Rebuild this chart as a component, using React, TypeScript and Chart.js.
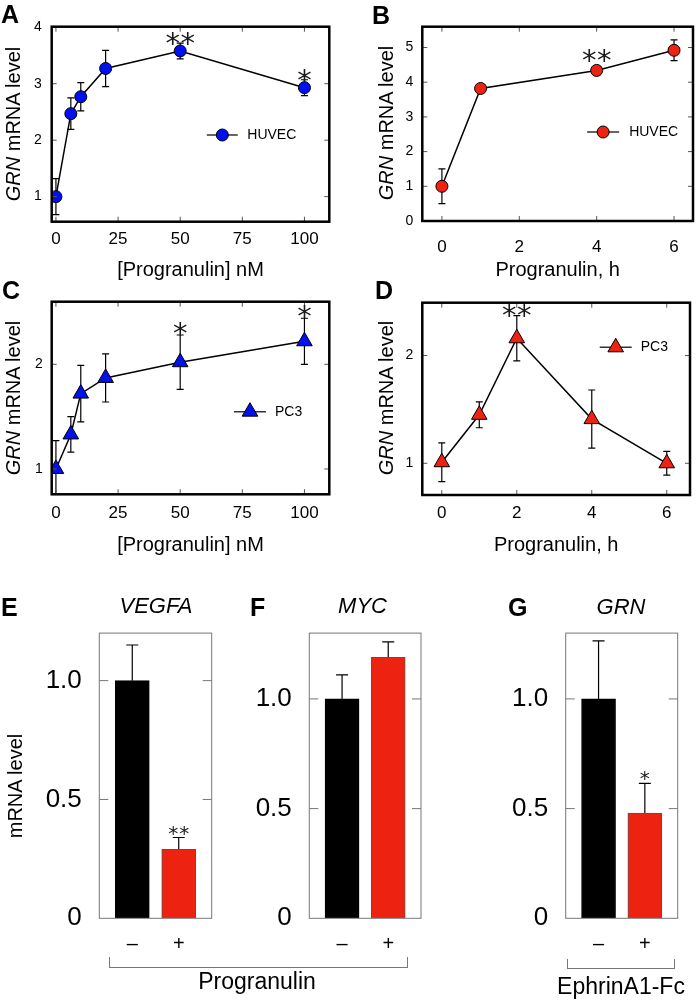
import React, { useEffect, useRef } from 'react';
import { Chart, registerables } from 'chart.js';

Chart.register(...registerables);

const FONT = '"Liberation Sans", Arial, Helvetica, sans-serif';
const STAR_FONT = '"DejaVu Sans", sans-serif';
const BLUE = '#0010ee';
const RED = '#ee2211';

// ---------------- data ----------------
const doseNM = [0, 6, 10, 20, 50, 100];
const hoursHUVEC = [0, 1, 4, 6];
const hoursPC3 = [0, 1, 2, 4, 6];

const huvecDoseMean = [1.0, 2.47, 2.77, 3.27, 3.58, 2.93];
const huvecDoseErr = [0.32, 0.28, 0.25, 0.32, 0.14, 0.14];
const huvecDoseStars = ['', '', '', '', '**', '*'];

const huvecTimeMean = [1.0, 3.82, 4.34, 4.92];
const huvecTimeErr = [0.5, 0.05, 0.12, 0.3];
const huvecTimeStars = ['', '', '**', ''];

const pc3DoseMean = [1.0, 1.33, 1.72, 1.87, 2.02, 2.22];
const pc3DoseErr = [0.27, 0.17, 0.27, 0.23, 0.26, 0.22];
const pc3DoseStars = ['', '', '', '', '*', '*'];

const pc3TimeMean = [1.01, 1.45, 2.16, 1.41, 1.0];
const pc3TimeErr = [0.18, 0.12, 0.21, 0.27, 0.11];
const pc3TimeStars = ['', '', '**', '', ''];

const treatment = ['\u2013', '+'];
const vegfaMean = [1.0, 0.29];
const vegfaErr = [0.15, 0.05];
const vegfaStars = ['', '**'];
const mycMean = [1.0, 1.19];
const mycErr = [0.11, 0.07];
const mycStars = ['', ''];
const grnMean = [1.0, 0.48];
const grnErr = [0.265, 0.135];
const grnStars = ['', '*'];

const doseTicks = [0, 25, 50, 75, 100];
const hourTicks = [0, 2, 4, 6];
const huvecDoseYTicks = [1, 2, 3, 4];
const huvecTimeYTicks = [0, 1, 2, 3, 4, 5];
const pc3YTicks = [1, 2];
const barYTicks = [0, 0.5, 1.0];

// ---------------- plugin ----------------
function drawMarker(ctx: CanvasRenderingContext2D, style: string, x: number, y: number, r: number, fill: string) {
  ctx.beginPath();
  if (style === 'triangle') {
    ctx.moveTo(x, y - r);
    ctx.lineTo(x + 0.866 * r, y + 0.5 * r);
    ctx.lineTo(x - 0.866 * r, y + 0.5 * r);
    ctx.closePath();
  } else {
    ctx.arc(x, y, r, 0, Math.PI * 2);
  }
  ctx.fillStyle = fill;
  ctx.fill();
  ctx.strokeStyle = '#000';
  ctx.lineWidth = 1;
  ctx.stroke();
}

const decoPlugin = {
  id: 'deco',
  beforeDatasetsDraw(chart: any, _args: any, opts: any) {
    const { ctx, chartArea: ca } = chart;
    const xs = chart.scales.x;
    const ys = chart.scales.y;
    ctx.save();
    ctx.beginPath();
    ctx.rect(ca.left, ca.top, ca.right - ca.left, ca.bottom - ca.top);
    ctx.clip();
    ctx.strokeStyle = '#000';
    ctx.lineWidth = opts.errWidth;
    chart.data.datasets.forEach((ds: any) => {
      (ds.data as any[]).forEach((pt: any, i: number) => {
        const e = ds.errors ? ds.errors[i] : 0;
        const x = xs.getPixelForValue(pt.x);
        const y1 = ys.getPixelForValue(pt.y + e);
        const y2 = opts.upOnly ? ys.getPixelForValue(pt.y) : ys.getPixelForValue(pt.y - e);
        const c = opts.cap;
        ctx.beginPath();
        ctx.moveTo(x, y1);
        ctx.lineTo(x, y2);
        ctx.moveTo(x - c, y1);
        ctx.lineTo(x + c, y1);
        if (!opts.upOnly) {
          ctx.moveTo(x - c, y2);
          ctx.lineTo(x + c, y2);
        }
        ctx.stroke();
      });
    });
    ctx.restore();
  },
  afterDatasetsDraw(chart: any, _args: any, opts: any) {
    const { ctx, chartArea: ca } = chart;
    const xs = chart.scales.x;
    const ys = chart.scales.y;
    ctx.save();
    // inner ticks
    ctx.strokeStyle = opts.tickColor;
    ctx.lineWidth = 1;
    ctx.beginPath();
    const L = opts.tickLen;
    ys.ticks.forEach((t: any) => {
      const y = ys.getPixelForValue(t.value);
      if (y >= ca.bottom - 0.5 || y <= ca.top + 0.2) return;
      ctx.moveTo(ca.left, y);
      ctx.lineTo(ca.left + L, y);
      ctx.moveTo(ca.right, y);
      ctx.lineTo(ca.right - L, y);
    });
    if (opts.xInner) {
      xs.ticks.forEach((t: any) => {
        const x = xs.getPixelForValue(t.value);
        ctx.moveTo(x, ca.bottom);
        ctx.lineTo(x, ca.bottom - L);
        ctx.moveTo(x, ca.top);
        ctx.lineTo(x, ca.top + L);
      });
    }
    ctx.stroke();
    // frame
    ctx.strokeStyle = opts.boxColor;
    ctx.lineWidth = opts.boxWidth;
    ctx.strokeRect(ca.left, ca.top, ca.right - ca.left, ca.bottom - ca.top);
    // significance stars
    ctx.fillStyle = '#1a1a1a';
    ctx.font = `${opts.starSize}px ${STAR_FONT}`;
    ctx.textAlign = 'center';
    ctx.textBaseline = 'alphabetic';
    chart.data.datasets.forEach((ds: any) => {
      (ds.data as any[]).forEach((pt: any, i: number) => {
        const s = ds.stars ? ds.stars[i] : '';
        if (!s) return;
        const e = ds.errors ? ds.errors[i] : 0;
        const x = xs.getPixelForValue(pt.x);
        const cy = ys.getPixelForValue(pt.y + e) - opts.starGap;
        const n = s.length;
        for (let k = 0; k < n; k++) {
          ctx.fillText('*', x + (k - (n - 1) / 2) * opts.starSpacing, cy + 0.56 * opts.starSize);
        }
      });
    });
    // in-plot legend
    const lg = opts.legend;
    if (lg && lg.label) {
      const ds = chart.data.datasets[0];
      const cx = ca.left + lg.fx * (ca.right - ca.left);
      const cy = ca.top + lg.fy * (ca.bottom - ca.top);
      ctx.strokeStyle = '#333';
      ctx.lineWidth = 1.5;
      ctx.beginPath();
      ctx.moveTo(cx - lg.half, cy);
      ctx.lineTo(cx + lg.half, cy);
      ctx.stroke();
      drawMarker(ctx, ds.pointStyle, cx, cy, ds.pointRadius, ds.pointBackgroundColor);
      ctx.fillStyle = '#000';
      ctx.font = `14px ${FONT}`;
      ctx.textAlign = 'left';
      ctx.textBaseline = 'middle';
      ctx.fillText(lg.label, cx + lg.textDx, cy);
    }
    ctx.restore();
  },
};

// ---------------- config builders ----------------
type Box = { x: number; y: number; w: number; h: number };
type Area = { L: number; T: number; R: number; B: number };

function lineConfig(p: any) {
  const cv: Box = p.canvas;
  const a: Area = p.area;
  return {
    type: 'line',
    data: {
      datasets: [
        {
          data: p.xs.map((x: number, i: number) => ({ x, y: p.ys[i] })),
          errors: p.errs,
          stars: p.stars,
          borderColor: '#000',
          borderWidth: 1.5,
          tension: 0,
          pointStyle: p.shape,
          pointRadius: p.radius,
          pointBackgroundColor: p.color,
          pointBorderColor: '#000',
          pointBorderWidth: 1,
        },
      ],
    },
    options: {
      animation: false,
      responsive: false,
      devicePixelRatio: 1,
      events: [],
      layout: { padding: { left: 0, bottom: 0, top: a.T - cv.y, right: cv.x + cv.w - a.R } },
      plugins: {
        legend: { display: false },
        tooltip: { enabled: false },
        deco: {
          errWidth: 1.2,
          cap: 3.5,
          upOnly: false,
          tickColor: '#555',
          tickLen: 5,
          xInner: true,
          boxColor: '#000',
          boxWidth: 2.5,
          starSize: 29,
          starSpacing: 15,
          starGap: p.starGap,
          legend: p.legend,
        },
      },
      scales: {
        x: {
          type: 'linear',
          min: p.xMin,
          max: p.xMax,
          grid: { display: false, drawTicks: false },
          border: { display: false },
          ticks: { font: { family: FONT, size: 17 }, color: '#000', padding: p.xPad, maxRotation: 0 },
          afterBuildTicks: (s: any) => {
            s.ticks = p.xTicks.map((v: number) => ({ value: v }));
          },
          afterFit: (s: any) => {
            s.height = cv.y + cv.h - a.B;
          },
          title: { display: true, text: p.xTitle, font: { family: FONT, size: 20 }, color: '#000', padding: 0 },
        },
        y: {
          type: 'linear',
          min: p.yMin,
          max: p.yMax,
          grid: { display: false, drawTicks: false },
          border: { display: false },
          ticks: { font: { family: FONT, size: 14 }, color: '#000', padding: p.yPad },
          afterBuildTicks: (s: any) => {
            s.ticks = p.yTicks.map((v: number) => ({ value: v }));
          },
          afterFit: (s: any) => {
            s.width = a.L - cv.x;
          },
        },
      },
    },
    plugins: [decoPlugin],
  };
}

function barConfig(p: any) {
  const cv: Box = p.canvas;
  const a: Area = p.area;
  return {
    type: 'bar',
    data: {
      datasets: [
        {
          data: p.means.map((y: number, i: number) => ({ x: i, y })),
          errors: p.errs,
          stars: p.stars,
          backgroundColor: ['#000', RED],
          borderColor: ['#000', '#555'],
          borderWidth: 1,
          barThickness: 34,
        },
      ],
    },
    options: {
      animation: false,
      responsive: false,
      devicePixelRatio: 1,
      events: [],
      layout: { padding: { left: 0, bottom: 0, top: a.T - cv.y, right: cv.x + cv.w - a.R } },
      plugins: {
        legend: { display: false },
        tooltip: { enabled: false },
        deco: {
          errWidth: 1.2,
          cap: 6,
          upOnly: true,
          tickColor: '#777',
          tickLen: 9,
          xInner: false,
          boxColor: '#777',
          boxWidth: 1,
          starSize: 20,
          starSpacing: 11,
          starGap: p.starGap,
          legend: null,
        },
      },
      scales: {
        x: {
          type: 'linear',
          min: -0.71,
          max: 1.71,
          offset: false,
          grid: { display: false, drawTicks: false },
          border: { display: false },
          ticks: {
            font: { family: FONT, size: 20 },
            color: '#000',
            padding: 14.5,
            maxRotation: 0,
            callback: (v: number) => treatment[v] ?? '',
          },
          afterBuildTicks: (s: any) => {
            s.ticks = treatment.map((_t, i) => ({ value: i }));
          },
          afterFit: (s: any) => {
            s.height = cv.y + cv.h - a.B;
          },
        },
        y: {
          type: 'linear',
          min: 0,
          max: p.yMax,
          grid: { display: false, drawTicks: false },
          border: { display: false },
          ticks: {
            font: { family: FONT, size: 26 },
            color: '#000',
            padding: 17.5,
            callback: (v: number) => (v === 0 ? '0' : v.toFixed(1)),
          },
          afterBuildTicks: (s: any) => {
            s.ticks = barYTicks.map((v) => ({ value: v }));
          },
          afterFit: (s: any) => {
            s.width = a.L - cv.x;
          },
        },
      },
    },
    plugins: [decoPlugin],
  };
}

// ---------------- components ----------------
function ChartCanvas({ box, config }: { box: Box; config: () => any }) {
  const ref = useRef<HTMLCanvasElement>(null);
  useEffect(() => {
    const chart = new Chart(ref.current as HTMLCanvasElement, config());
    return () => chart.destroy();
  }, []);
  return (
    <canvas
      ref={ref}
      width={box.w}
      height={box.h}
      style={{ position: 'absolute', left: box.x, top: box.y, width: box.w, height: box.h }}
    />
  );
}

function Txt({ x, y, size, bold, italic, center, children }: any) {
  return (
    <div
      style={{
        position: 'absolute',
        left: x,
        top: y,
        fontSize: size,
        lineHeight: 1,
        fontWeight: bold ? 'bold' : 'normal',
        fontStyle: italic ? 'italic' : 'normal',
        whiteSpace: 'nowrap',
        transform: center ? 'translateX(-50%)' : undefined,
        color: '#000',
      }}
    >
      {children}
    </div>
  );
}

function VTitle({ x, y, children }: any) {
  return (
    <div
      style={{
        position: 'absolute',
        left: x,
        top: y,
        fontSize: 20,
        lineHeight: 1,
        whiteSpace: 'nowrap',
        transform: 'translate(-50%, -50%) rotate(-90deg)',
        color: '#000',
      }}
    >
      {children}
    </div>
  );
}

function Bracket({ x, y, w, h }: any) {
  return (
    <div
      style={{
        position: 'absolute',
        left: x,
        top: y,
        width: w,
        height: h,
        boxSizing: 'border-box',
        borderLeft: '1px solid #777',
        borderRight: '1px solid #777',
        borderBottom: '1px solid #777',
      }}
    />
  );
}

const grnTitle = (
  <>
    <i>GRN</i> mRNA level
  </>
);

export default function App() {
  const boxA = { x: 0, y: 0, w: 345, h: 282 };
  const boxB = { x: 350, y: 0, w: 350, h: 282 };
  const boxC = { x: 0, y: 282, w: 345, h: 275 };
  const boxD = { x: 350, y: 282, w: 350, h: 275 };
  const boxE = { x: 0, y: 600, w: 230, h: 360 };
  const boxF = { x: 220, y: 600, w: 220, h: 360 };
  const boxG = { x: 470, y: 600, w: 230, h: 360 };

  return (
    <div
      style={{
        position: 'absolute',
        left: 0,
        top: 0,
        width: 700,
        height: 1002,
        background: '#fff',
        fontFamily: FONT,
        overflow: 'hidden',
      }}
    >
      <ChartCanvas
        box={boxA}
        config={() =>
          lineConfig({
            canvas: boxA,
            area: { L: 51.7, T: 26.7, R: 329.3, B: 221.7 },
            xs: doseNM,
            ys: huvecDoseMean,
            errs: huvecDoseErr,
            stars: huvecDoseStars,
            color: BLUE,
            shape: 'circle',
            radius: 6,
            xMin: -1.7,
            xMax: 110,
            xTicks: doseTicks,
            yMin: 0.556,
            yMax: 4.01,
            yTicks: huvecDoseYTicks,
            xTitle: '[Progranulin] nM',
            xPad: 7.5,
            yPad: 10,
            starGap: 6,
            legend: { fx: 0.6146, fy: 0.5554, label: 'HUVEC', half: 15.5, textDx: 25 },
          })
        }
      />
      <ChartCanvas
        box={boxB}
        config={() =>
          lineConfig({
            canvas: boxB,
            area: { L: 422.3, T: 26.7, R: 698.3, B: 221 },
            xs: hoursHUVEC,
            ys: huvecTimeMean,
            errs: huvecTimeErr,
            stars: huvecTimeStars,
            color: RED,
            shape: 'circle',
            radius: 6,
            xMin: -0.507,
            xMax: 6.49,
            xTicks: hourTicks,
            yMin: 0,
            yMax: 5.6,
            yTicks: huvecTimeYTicks,
            xTitle: 'Progranulin, h',
            xPad: 16.5,
            yPad: 9,
            starGap: 12,
            legend: { fx: 0.668, fy: 0.542, label: 'HUVEC', half: 16, textDx: 26 },
          })
        }
      />
      <ChartCanvas
        box={boxC}
        config={() =>
          lineConfig({
            canvas: boxC,
            area: { L: 51.7, T: 301.7, R: 329.3, B: 494.3 },
            xs: doseNM,
            ys: pc3DoseMean,
            errs: pc3DoseErr,
            stars: pc3DoseStars,
            color: BLUE,
            shape: 'triangle',
            radius: 9,
            xMin: -1.7,
            xMax: 110,
            xTicks: doseTicks,
            yMin: 0.758,
            yMax: 2.598,
            yTicks: pc3YTicks,
            xTitle: '[Progranulin] nM',
            xPad: 9,
            yPad: 9,
            starGap: 8,
            legend: { fx: 0.7143, fy: 0.571, label: 'PC3', half: 16, textDx: 25 },
          })
        }
      />
      <ChartCanvas
        box={boxD}
        config={() =>
          lineConfig({
            canvas: boxD,
            area: { L: 422.3, T: 302.7, R: 698.3, B: 495 },
            xs: hoursPC3,
            ys: pc3TimeMean,
            errs: pc3TimeErr,
            stars: pc3TimeStars,
            color: RED,
            shape: 'triangle',
            radius: 9,
            xMin: -0.52,
            xMax: 6.62,
            xTicks: hourTicks,
            yMin: 0.706,
            yMax: 2.49,
            yTicks: pc3YTicks,
            xTitle: 'Progranulin, h',
            xPad: 8,
            yPad: 9,
            starGap: 7,
            legend: { fx: 0.7225, fy: 0.232, label: 'PC3', half: 16, textDx: 25 },
          })
        }
      />
      <ChartCanvas
        box={boxE}
        config={() =>
          barConfig({
            canvas: boxE,
            area: { L: 99.3, T: 626, R: 211.7, B: 918.3 },
            means: vegfaMean,
            errs: vegfaErr,
            stars: vegfaStars,
            yMax: 1.2,
            starGap: 9,
          })
        }
      />
      <ChartCanvas
        box={boxF}
        config={() =>
          barConfig({
            canvas: boxF,
            area: { L: 309.3, T: 626, R: 421, B: 918.3 },
            means: mycMean,
            errs: mycErr,
            stars: mycStars,
            yMax: 1.3,
            starGap: 9,
          })
        }
      />
      <ChartCanvas
        box={boxG}
        config={() =>
          barConfig({
            canvas: boxG,
            area: { L: 565.7, T: 626, R: 677.7, B: 918.3 },
            means: grnMean,
            errs: grnErr,
            stars: grnStars,
            yMax: 1.3,
            starGap: 10,
          })
        }
      />

      {/* panel letters */}
      <Txt x={1} y={2} size={25} bold>A</Txt>
      <Txt x={372} y={3} size={25} bold>B</Txt>
      <Txt x={2} y={278} size={25} bold>C</Txt>
      <Txt x={375} y={278} size={25} bold>D</Txt>
      <Txt x={1} y={594.5} size={25} bold>E</Txt>
      <Txt x={250} y={594.5} size={25} bold>F</Txt>
      <Txt x={508} y={594.5} size={25} bold>G</Txt>

      {/* y-axis titles */}
      <VTitle x={12.5} y={124}>{grnTitle}</VTitle>
      <VTitle x={386} y={122.5}>{grnTitle}</VTitle>
      <VTitle x={12.5} y={398}>{grnTitle}</VTitle>
      <VTitle x={386} y={398}>{grnTitle}</VTitle>
      <VTitle x={15} y={786}>mRNA level</VTitle>

      {/* gene titles */}
      <Txt x={156} y={595} size={22} italic center>VEGFA</Txt>
      <Txt x={362.5} y={595} size={22} italic center>MYC</Txt>
      <Txt x={621} y={596} size={22} italic center>GRN</Txt>

      {/* treatment brackets */}
      <Bracket x={109} y={956.5} w={299} h={11} />
      <Bracket x={567} y={959} w={108} h={10} />
      <Txt x={257} y={970} size={23} center>Progranulin</Txt>
      <Txt x={621} y={975} size={23} center>EphrinA1-Fc</Txt>
    </div>
  );
}
